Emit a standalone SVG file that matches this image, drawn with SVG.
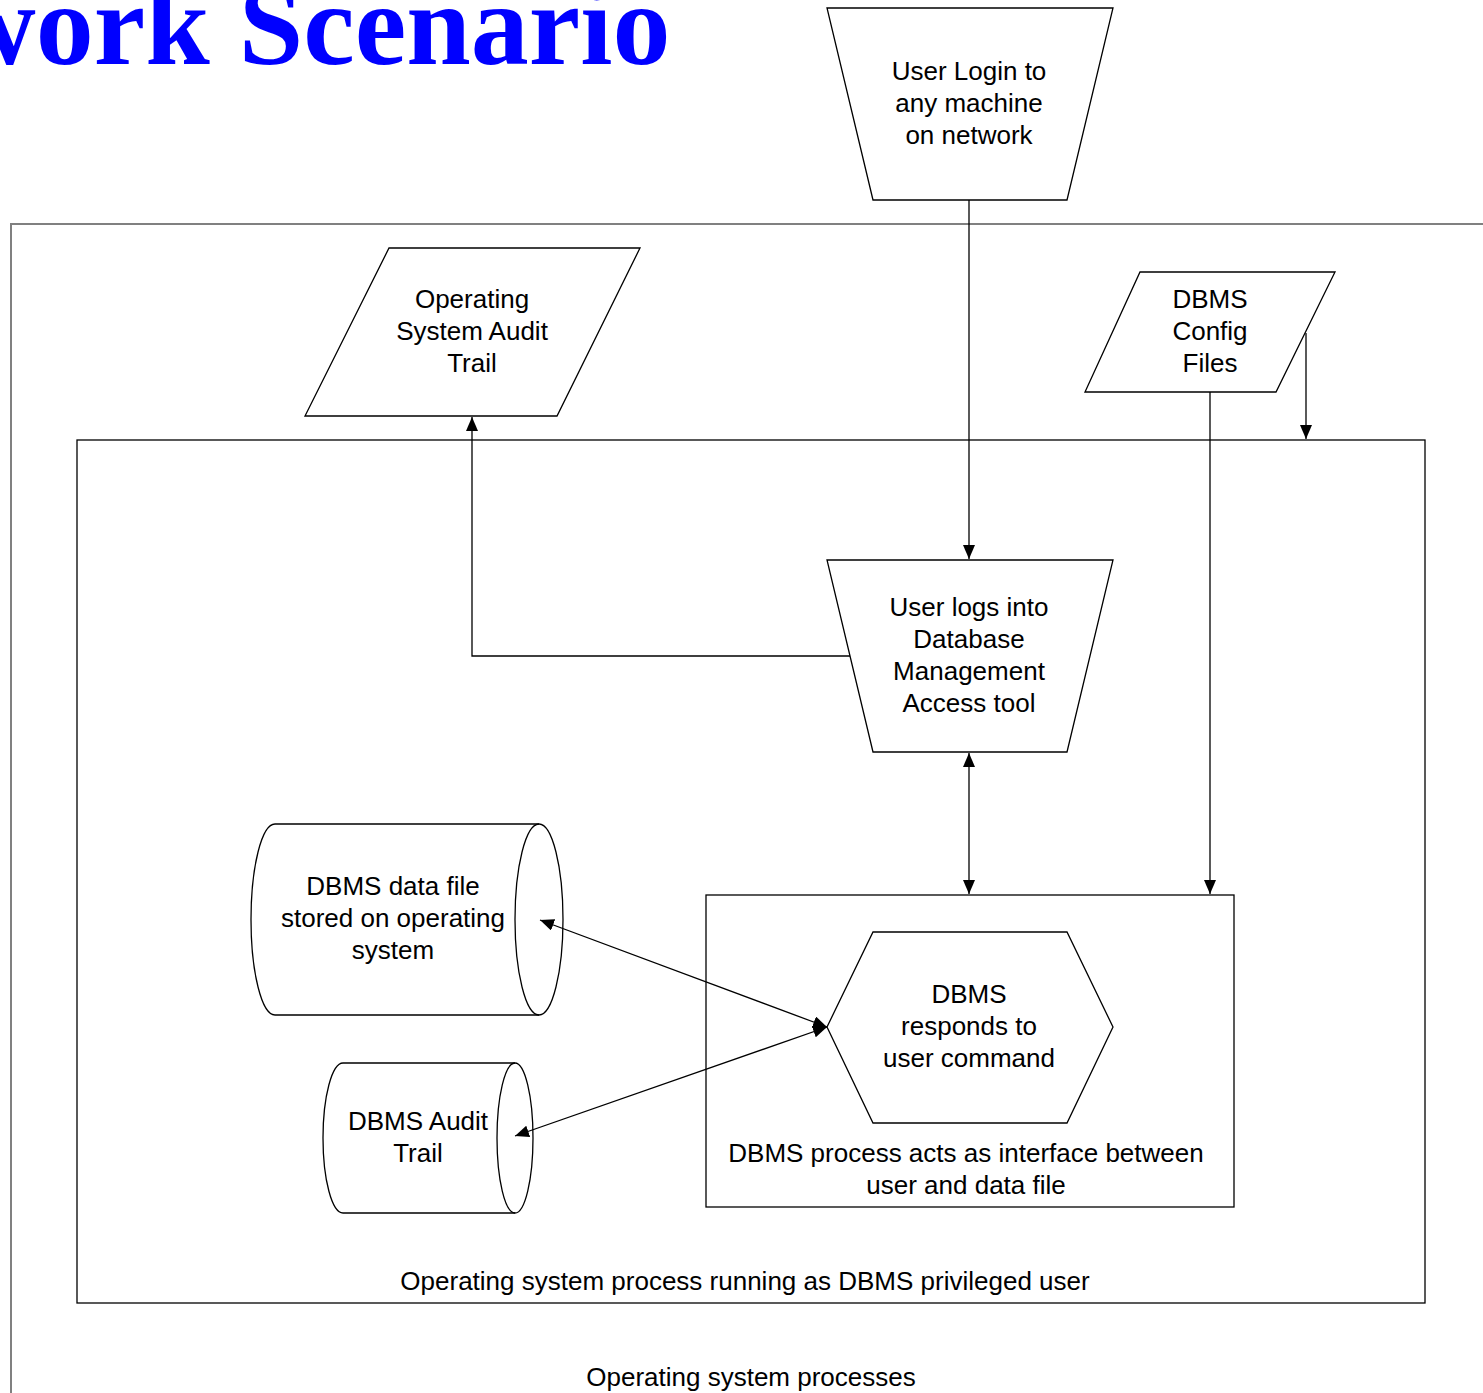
<svg xmlns="http://www.w3.org/2000/svg" width="1483" height="1393" viewBox="0 0 1483 1393">
<style>
.s{fill:#fff;stroke:#000;stroke-width:1.3}
.t{font-family:"Liberation Sans",Arial,sans-serif;font-size:26px;fill:#000;text-anchor:middle}
.c{fill:none;stroke:#000;stroke-width:1.3}
</style>
<defs>
<marker id="a" viewBox="0 0 14 12" refX="14" refY="6" markerWidth="14" markerHeight="12" markerUnits="userSpaceOnUse" orient="auto-start-reverse">
<path d="M0,0 L14,6 L0,12 Z" fill="#000"/>
</marker>
</defs>
<rect width="1483" height="1393" fill="#fff"/>
<text x="-48" y="64" font-family="'Liberation Serif','Times New Roman',serif" font-weight="bold" font-size="116" fill="#0000ff">work Scenario</text>

<g id="os-processes">
<path d="M11,1400 L11,224 L1490,224" fill="none" stroke="#808080" stroke-width="2"/>
<text class="t" x="751" y="1386">Operating system processes</text>
</g>

<g id="dbms-privileged">
<rect x="77" y="440" width="1348" height="863" fill="none" stroke="#000" stroke-width="1.3"/>
<text class="t" x="745" y="1290">Operating system process running as DBMS privileged user</text>
</g>

<g id="dbms-interface">
<rect x="706" y="895" width="528" height="312" fill="none" stroke="#000" stroke-width="1.3"/>
<text class="t" x="966" y="1162">DBMS process acts as interface between</text>
<text class="t" x="966" y="1194">user and data file</text>
</g>

<g id="user-login">
<polygon class="s" points="827,8 1113,8 1067,200 873,200"/>
<text class="t" x="969" y="80">User Login to</text>
<text class="t" x="969" y="112">any machine</text>
<text class="t" x="969" y="144">on network</text>
</g>

<g id="os-audit">
<polygon class="s" points="389,248 640,248 557,416 305,416"/>
<text class="t" x="472" y="308">Operating</text>
<text class="t" x="472" y="340">System Audit</text>
<text class="t" x="472" y="372">Trail</text>
</g>

<g id="config">
<polygon class="s" points="1140,272 1335,272 1276,392 1085,392"/>
<text class="t" x="1210" y="308">DBMS</text>
<text class="t" x="1210" y="340">Config</text>
<text class="t" x="1210" y="372">Files</text>
</g>

<g id="access-tool">
<polygon class="s" points="827,560 1113,560 1067,752 873,752"/>
<text class="t" x="969" y="616">User logs into</text>
<text class="t" x="969" y="648">Database</text>
<text class="t" x="969" y="680">Management</text>
<text class="t" x="969" y="712">Access tool</text>
</g>

<g id="responds">
<polygon class="s" points="873,932 1067,932 1113,1027 1067,1123 873,1123 827,1027"/>
<text class="t" x="969" y="1003">DBMS</text>
<text class="t" x="969" y="1035">responds to</text>
<text class="t" x="969" y="1067">user command</text>
</g>

<g id="data-file">
<path class="s" d="M275,824 L539,824 A24,95.5 0 0 1 539,1015 L275,1015 A24,95.5 0 0 1 275,824 Z"/>
<path class="c" d="M539,824 A24,95.5 0 0 0 539,1015"/>
<text class="t" x="393" y="895">DBMS data file</text>
<text class="t" x="393" y="927">stored on operating</text>
<text class="t" x="393" y="959">system</text>
</g>

<g id="dbms-audit">
<path class="s" d="M343,1063 L515,1063 A18,75 0 0 1 515,1213 L343,1213 A20,75 0 0 1 343,1063 Z"/>
<path class="c" d="M515,1063 A18,75 0 0 0 515,1213"/>
<text class="t" x="418" y="1130">DBMS Audit</text>
<text class="t" x="418" y="1162">Trail</text>
</g>

<g id="connectors">
<path class="c" d="M969,200 L969,559" marker-end="url(#a)"/>
<path class="c" d="M850,656 L472,656 L472,417" marker-end="url(#a)"/>
<path class="c" d="M1306,333 L1306,439" marker-end="url(#a)"/>
<path class="c" d="M1210,392 L1210,894" marker-end="url(#a)"/>
<path class="c" d="M969,753 L969,894" marker-start="url(#a)" marker-end="url(#a)"/>
<path class="c" d="M827,1027 L540,920" marker-start="url(#a)" marker-end="url(#a)"/>
<path class="c" d="M827,1027 L515,1136" marker-start="url(#a)" marker-end="url(#a)"/>
</g>
</svg>
